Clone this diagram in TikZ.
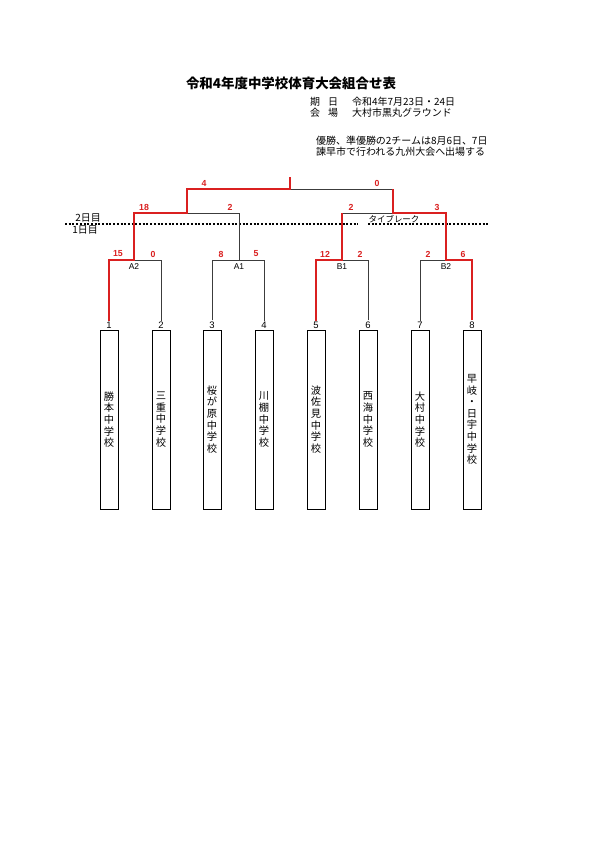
\documentclass[tikz,border=0pt]{standalone}
\usepackage{fontspec}
\setmainfont{Liberation Sans}
\newfontfamily\jp{Noto Sans CJK JP}
\definecolor{wred}{RGB}{218,32,32}
\definecolor{lgray}{RGB}{60,60,60}
\tikzset{
  win/.style={wred, line width=2bp},
  lose/.style={lgray, line width=0.9bp},
  score/.style={text=wred, font=\bfseries\fontsize{8.8}{9}\selectfont, inner sep=0pt},
  pool/.style={font=\fontsize{8.5}{9}\selectfont, inner sep=0pt},
  seed/.style={font=\fontsize{9.5}{9.5}\selectfont, inner sep=1pt},
  team/.style={draw, line width=0.9bp, minimum width=18bp, minimum height=179bp, inner sep=0pt, align=center, font=\jp\fontsize{10.3}{11.7}\selectfont},
  jptext/.style={font=\jp\fontsize{10}{12}\selectfont, inner sep=0pt, anchor=west},
  dayline/.style={black, line width=2.1bp, dash pattern=on 2bp off 1.7bp}
}
\begin{document}
\begin{tikzpicture}[x=1bp,y=-1bp]
\useasboundingbox[fill=white] (0,0) rectangle (595,842);
% title and info
\node[font=\jp\bfseries\fontsize{13.5}{14}\selectfont, inner sep=0pt] (title) at (291,83) {令和4年度中学校体育大会組合せ表};
\node[jptext] (k1) at (310,102) {期};
\node[jptext] (k2) at (328,102) {日};
\node[jptext] (k3) at (352,102) {令和4年7月23日・24日};
\node[jptext] (p1) at (310,113) {会};
\node[jptext] (p2) at (328,113) {場};
\node[jptext] (p3) at (352,113) {大村市黒丸グラウンド};
\node[jptext] (note1) at (316,141) {優勝、準優勝の2チームは8月6日、7日};
\node[jptext] (note2) at (316,152) {諫早市で行われる九州大会へ出場する};
% day markers
\node[font=\jp\fontsize{10}{10}\selectfont, inner sep=0pt] (d2) at (88,218) {2日目};
\node[font=\jp\fontsize{10}{10}\selectfont, inner sep=0pt] (d1) at (85,230) {1日目};
\coordinate (dl1) at (65,224); \coordinate (dl2) at (358,224);
\coordinate (dl3) at (368,224); \coordinate (dl4) at (490,224);
\draw[dayline] (dl1) -- (dl2);
\draw[dayline] (dl3) -- (dl4);
\node[font=\jp\fontsize{8.5}{9}\selectfont, inner sep=0pt] (tb) at (394,219) {タイブレーク};
% teams
\node[team] (s1) at (109,419.5) {勝\\本\\中\\学\\校};
\node[team] (s2) at (161,419.5) {三\\重\\中\\学\\校};
\node[team] (s3) at (212,419.5) {桜\\が\\原\\中\\学\\校};
\node[team] (s4) at (264,419.5) {川\\棚\\中\\学\\校};
\node[team] (s5) at (316,419.5) {波\\佐\\見\\中\\学\\校};
\node[team] (s6) at (368,419.5) {西\\海\\中\\学\\校};
\node[team] (s7) at (420,419.5) {大\\村\\中\\学\\校};
\node[team] (s8) at (472,419.5) {早\\岐\\・\\日\\宇\\中\\学\\校};
% seeds
\foreach \i/\x in {1/109,2/161,3/212,4/264,5/316,6/368,7/420,8/472}
  \node[seed] (n\i) at (\x,325) {\i};
% bracket coordinates
\coordinate (a2) at (134,260);
\coordinate (a1) at (239,260);
\coordinate (b1) at (342,260);
\coordinate (b2) at (446,260);
\coordinate (sA) at (187,213);
\coordinate (sB) at (393,213);
\coordinate (f) at (290,189);
\coordinate (ftop) at (290,177);
% losing lines
\draw[lose] (n2.north) |- (a2);
\draw[lose] (n3.north) |- (a1);
\draw[lose] (n4.north) |- (a1);
\draw[lose] (a1) -- (a1 |- sA) -- (sA);
\draw[lose] (n6.north) |- (b1);
\draw[lose] (n7.north) |- (b2);
\draw[lose] (b1 |- sB) -- (sB);
\draw[lose] (sB |- f) -- (f);
% winning lines
\draw[win] (n1.north) |- (a2) -- (a2 |- sA) -- (sA) -- (sA |- f) -- (f) -- (ftop);
\draw[win] (n5.north) |- (b1) -- (b1 |- sB);
\draw[win] (n8.north) |- (b2) -- (b2 |- sB) -- (sB) -- (sB |- f);
% pool labels
\node[pool] (la2) at (134,267) {A2};
\node[pool] (la1) at (239,267) {A1};
\node[pool] (lb1) at (342,267) {B1};
\node[pool] (lb2) at (446,267) {B2};
% scores
\node[score] (c1) at (204,183) {4};
\node[score] (c2) at (377,183) {0};
\node[score] (c3) at (144,207) {18};
\node[score] (c4) at (230,207) {2};
\node[score] (c5) at (351,207) {2};
\node[score] (c6) at (437,207) {3};
\node[score] (c7) at (118,254) {15};
\node[score] (c8) at (153,254) {0};
\node[score] (c9) at (221,254) {8};
\node[score] (c10) at (256,254) {5};
\node[score] (c11) at (325,254) {12};
\node[score] (c12) at (360,254) {2};
\node[score] (c13) at (428,254) {2};
\node[score] (c14) at (463,254) {6};
\end{tikzpicture}
\end{document}
